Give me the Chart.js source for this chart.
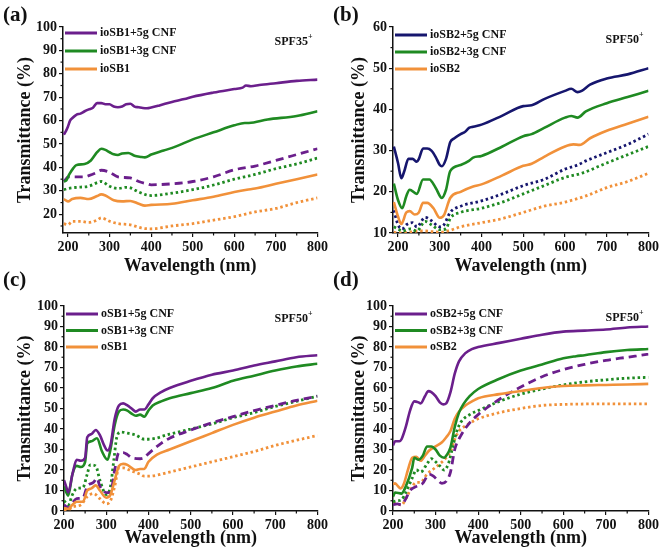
<!DOCTYPE html>
<html>
<head>
<meta charset="utf-8">
<script src="https://cdn.jsdelivr.net/npm/chart.js@4.4.1/dist/chart.umd.min.js"></script>
<style>
  body { margin: 0; background: #fff; width: 661px; height: 555px; position: relative; overflow: hidden; }
  canvas { position: absolute; }
</style>
</head>
<body>
<canvas id="ca" width="330" height="275" style="left:0;top:0"></canvas>
<canvas id="cb" width="331" height="275" style="left:330px;top:0"></canvas>
<canvas id="cc" width="330" height="287" style="left:0;top:268px"></canvas>
<canvas id="cd" width="331" height="287" style="left:330px;top:268px"></canvas>
<script>
// ---- data: [wavelength nm, transmittance %] ----
// (a) ioSB1
const aCnf5 = [[190,54],[195,55.5],[200,57.5],[205,60],[210,61],[220,62.5],[230,63],[240,64],[250,64.8],[260,65.5],[270,67.5],[280,67.5],[290,67],[300,67],[310,66],[320,65.7],[330,66],[340,67],[350,67.2],[360,66],[370,65.7],[380,65.4],[390,65.3],[400,65.6],[420,66.5],[450,68],[480,69.2],[500,70.2],[550,72],[600,73.5],[620,74.1],[628,75],[640,74.7],[660,75.2],[700,76],[750,77],[800,77.5]];
const aCnf3 = [[190,34],[196,34.5],[203,37],[212,39.5],[220,41],[240,41.5],[255,43],[270,46.5],[280,48],[290,47.5],[300,46.5],[310,45.6],[320,45.3],[330,46],[345,46.2],[360,45],[375,44.5],[385,44.3],[400,45.5],[430,47.2],[460,49],[500,52],[550,55],[600,58],[625,59],[635,59],[680,60.5],[750,62],[800,64]];
const aBase = [[190,26.5],[200,25.5],[210,26.5],[230,27],[250,26.5],[270,27.8],[280,28.5],[290,28],[310,26],[330,25.5],[350,25.7],[370,24.5],[385,23.7],[400,24],[450,24.5],[500,26],[550,27.5],[600,29.5],[630,30.5],[650,31],[700,33],[750,35],[800,37]];
const aCnf5b = [[190,34],[195,35],[200,36],[240,36],[250,36.5],[265,37.5],[280,38.8],[300,38],[320,36],[350,35.5],[370,34],[390,33],[400,32.6],[450,33],[500,34],[550,36],[600,39],[650,40.6],[700,43],[760,46],[800,48]];
const aCnf3b = [[190,30.5],[200,31],[220,31.5],[250,32],[270,33.5],[280,34],[300,32],[320,31],[340,31.5],[350,31.3],[370,29.5],[390,28.2],[400,28],[450,29],[500,30.5],[550,32.5],[600,35],[650,37],[700,39.5],[750,41.5],[800,44]];
const aBaseb = [[190,16],[200,15.5],[210,17],[230,17],[250,16.5],[270,17.5],[280,18.5],[300,17],[320,16],[350,15.5],[380,14],[400,13.8],[450,15],[500,16],[550,17.5],[600,19],[650,21],[700,22.5],[750,25],[800,27]];

// (b) ioSB2
const bCnf5 = [[190,31],[200,27],[208,23.3],[215,25],[225,28],[235,28],[245,27.3],[250,28],[260,30.5],[270,30.5],[280,30],[290,28.5],[300,26.5],[305,26.2],[315,28],[325,32],[335,33],[350,34],[360,34.5],[370,35.5],[380,35.8],[400,36.3],[450,38.5],[500,40.8],[520,41],[550,42.5],[600,44.5],[615,45],[630,44.2],[640,44.5],[660,46],[700,47.5],[750,48.5],[800,50]];
const bCnf3 = [[190,22],[200,18],[210,16],[220,19],[228,20.5],[245,19.5],[260,23],[275,23],[290,21],[305,18.5],[315,20.5],[325,25],[350,26.5],[370,27.5],[380,28.3],[400,28.7],[450,31],[500,33.5],[520,34],[550,35.5],[600,38],[615,38.4],[630,38],[650,39.5],[700,41.5],[750,43],[800,44.5]];
const bBase = [[190,17.5],[200,14],[208,12.2],[220,15],[228,15.3],[240,14.5],[250,15],[260,17.3],[270,17.3],[285,16],[300,13.7],[310,14.3],[325,18.5],[350,20],[380,21.3],[400,21.8],[450,24],[500,26.3],[520,26.8],[550,28.5],[600,31],[620,31.5],[635,31.4],[660,33],[700,34.8],[750,36.5],[800,38.2]];
const bCnf5b = [[190,15.5],[200,12],[210,11],[220,12],[235,12.5],[245,11.5],[265,13.8],[280,13],[300,11.5],[310,12],[325,15],[350,16.5],[400,17.8],[450,19.5],[500,21.5],[550,23],[600,25.5],[630,26.5],[650,27.5],[700,29.5],[750,31.5],[800,34]];
const bCnf3b = [[190,11.5],[200,11],[210,10.5],[230,11],[245,10.5],[265,12.8],[280,12],[300,10.8],[315,11],[325,13.5],[350,15],[400,16],[450,17.5],[500,19.5],[550,21.5],[600,23.5],[640,24.5],[700,27],[750,29],[800,31]];
const bBaseb = [[190,10.2],[200,10],[260,10.5],[300,10.2],[320,10.5],[350,11.5],[400,12.5],[450,13.5],[500,15],[550,16.5],[600,17.5],[650,19],[700,21],[750,22.5],[800,24.5]];

// (c) oSB1
const cCnf5 = [[200,15],[205,12],[210,9],[220,18],[230,25],[240,24.5],[250,26],[255,36],[265,37.5],[275,39.5],[285,37],[295,32],[303,29.5],[310,32],[320,45],[330,51.5],[340,52.5],[350,51.5],[360,50],[370,48.5],[380,49.5],[390,49.5],[400,52],[410,55],[430,58],[450,60],[500,63.5],[550,66.5],[600,68.5],[650,71],[700,73],[750,75],[800,76]];
const cCnf3 = [[200,12],[210,7.5],[220,18],[230,22],[240,21.5],[250,24],[255,33],[265,34],[278,35.5],[290,29],[303,25],[310,30],[320,42],[330,48.5],[340,49.5],[350,49],[360,47.5],[370,46.5],[380,47],[390,46],[400,49],[410,51.5],[430,53.5],[450,55],[500,57.5],[550,60],[600,63.5],[650,66],[700,68.5],[750,70.5],[800,71.8]];
const cBase = [[200,1.5],[210,1],[220,3],[230,4.5],[245,4.5],[255,10],[265,11],[275,12.5],[285,10],[300,6.5],[310,8],[320,15],[330,22],[340,23],[350,22.5],[360,21],[370,20],[380,20.5],[390,20.5],[400,24],[420,27.5],[450,30],[500,34],[550,38],[600,42],[650,45.5],[700,48.5],[750,51.5],[800,53.8]];
const cCnf5b = [[200,3],[210,1.5],[220,4],[230,6],[245,6.5],[255,12],[270,14],[278,16],[285,12],[300,9],[310,9],[320,20],[330,28.5],[340,28.5],[350,27.5],[360,26],[380,25.5],[390,26],[400,28],[430,33],[450,35.5],[500,39.5],[550,43],[600,46],[650,49],[700,51.5],[750,54],[800,56]];
const cCnf3b = [[200,5],[210,3],[220,8],[230,11],[245,11.5],[255,18],[262,22.5],[275,22],[285,15],[300,8],[310,12],[318,25],[325,36],[335,38.5],[350,38],[370,37],[390,35],[400,35],[450,37.5],[500,40],[550,42.5],[600,45.5],[650,48],[700,51],[750,53.5],[800,56]];
const cBaseb = [[200,0.5],[210,0.5],[220,2],[240,3],[255,7],[270,8.5],[285,6],[300,3.5],[310,5],[320,12],[330,21],[340,21],[360,19.5],[380,18],[390,17],[400,17],[450,19],[500,21.5],[550,24],[600,26.5],[650,29],[700,32],[750,34.5],[800,36.8]];

// (d) oSB2
const dCnf5 = [[200,32],[205,34],[215,34],[220,35],[230,41],[240,49],[250,53.5],[260,53],[265,52.5],[275,56],[283,58.5],[290,58],[300,56],[310,53],[318,52],[325,52.5],[335,58],[345,67],[355,73],[370,77],[385,79],[400,80],[450,82],[500,84],[550,86],[600,87.5],[650,88],[700,88.5],[750,89.5],[800,90]];
const dCnf3 = [[200,7],[205,9],[220,8.5],[230,12],[245,21],[250,26],[260,25],[270,27],[280,31.5],[290,31.5],[300,30],[310,27],[320,26],[325,27],[335,31],[345,41],[355,48],[365,52],[380,56],[400,59.5],[450,64.5],[500,68.5],[550,71.5],[600,74.5],[630,75.5],[650,76],[700,77.5],[750,78.5],[800,79]];
const dBase = [[200,13],[205,13.5],[210,12.5],[218,11],[225,13],[235,20],[245,26],[255,26.5],[265,24.5],[275,27],[285,29.5],[300,31.5],[315,33.5],[325,36],[335,39],[345,45],[355,48.5],[370,51.5],[390,54],[400,55],[450,57],[500,58.5],[550,60],[600,61],[650,61.3],[700,61.5],[750,61.7],[800,62]];
const dCnf5b = [[200,3],[210,3.5],[220,3],[230,6],[240,10],[255,12],[270,13.5],[285,18],[295,17],[305,15],[315,13.5],[325,14.5],[335,19],[345,30],[360,37],[380,43],[400,47],[450,54.5],[500,60.5],[550,65.5],[600,69],[650,71.5],[700,73.5],[750,75],[800,76.5]];
const dCnf3b = [[200,4.5],[210,5],[220,5.5],[230,9],[245,16],[255,20],[265,19],[280,23],[290,25.5],[300,24],[310,22],[320,20],[330,23],[340,31],[350,39],[360,43.5],[380,47],[400,49],[450,53.5],[500,57],[550,59.5],[600,61.5],[650,63],[700,64],[750,64.8],[800,65.2]];
const dBaseb = [[200,4],[210,3.5],[220,3],[230,6],[240,10],[255,14],[265,14],[280,18],[295,20.5],[310,23],[325,26],[335,29],[345,35],[355,39],[370,41.5],[390,44],[400,45],[450,48],[500,50],[550,51.5],[600,52],[650,52.2],[700,52.3],[800,52.3]];

const xTicks = [200, 300, 400, 500, 600, 700, 800];
const yTicksA = [20, 30, 40, 50, 60, 70, 80, 90, 100];
const yTicksB = [10, 20, 30, 40, 50, 60];
const yTicksCD = [0, 10, 20, 30, 40, 50, 60, 70, 80, 90, 100];

const PURPLE = '#6b1f8c';
const NAVY = '#16166e';
const GREEN = '#1f8a22';
const ORANGE = '#f1913a';
const FONT = '"Liberation Serif", "Times New Roman", serif';

const decor = {
  id: 'decor',
  afterDraw(chart, args, o) {
    const { ctx, chartArea: ca, scales } = chart;
    ctx.save();
    // minor ticks
    ctx.strokeStyle = '#111';
    ctx.lineWidth = 1.2;
    const xs = scales.x, ys = scales.y;
    for (let i = 0; i < xTicks.length - 1; i++) {
      const px = xs.getPixelForValue((xTicks[i] + xTicks[i + 1]) / 2);
      ctx.beginPath(); ctx.moveTo(px, ca.bottom); ctx.lineTo(px, ca.bottom + 2.5); ctx.stroke();
    }
    const yt = o.yTicks;
    const step = yt[1] - yt[0];
    for (let v = yt[0] - step / 2; v < yt[yt.length - 1]; v += step) {
      if (v < ys.min) continue;
      const py = ys.getPixelForValue(v);
      ctx.beginPath(); ctx.moveTo(ca.left, py); ctx.lineTo(ca.left - 2.5, py); ctx.stroke();
    }
    // legend
    ctx.textBaseline = 'middle';
    ctx.textAlign = 'left';
    o.legend.forEach((it, i) => {
      const y = ca.top + o.legendTop + i * o.legendGap;
      ctx.strokeStyle = it.color; ctx.lineWidth = 3;
      ctx.beginPath(); ctx.moveTo(ca.left + 2, y); ctx.lineTo(ca.left + 34, y); ctx.stroke();
      ctx.fillStyle = '#111';
      ctx.font = 'bold 12px ' + FONT;
      ctx.fillText(it.text, ca.left + 37, y);
    });
    // SPF label
    ctx.font = 'bold 8px ' + FONT;
    const supW = ctx.measureText('+').width;
    ctx.textAlign = 'right';
    ctx.fillText('+', ca.right - 5, ca.top + o.spfY - 5);
    ctx.font = 'bold 12px ' + FONT;
    ctx.fillText(o.spf, ca.right - 5 - supW, ca.top + o.spfY);
    // panel letter
    ctx.textAlign = 'left';
    ctx.font = 'bold 21px ' + FONT;
    ctx.fillText(o.letter, 3, o.letterY);
    ctx.restore();
  }
};

function ds(points, color, style) {
  return {
    data: points.map(p => ({ x: p[0], y: p[1] })),
    borderColor: color,
    borderWidth: style === 'solid' ? 2.6 : 2.8,
    borderDash: style === 'dash' ? [8, 5] : style === 'dot' ? [2.5, 2.8] : [],
    pointRadius: 0,
    fill: false,
    cubicInterpolationMode: 'monotone'
  };
}

function panel(id, p) {
  const c = document.getElementById(id);
  new Chart(c, {
    type: 'line',
    data: { datasets: p.series },
    plugins: [decor],
    options: {
      responsive: false,
      animation: false,
      layout: { padding: { top: p.top, right: c.width - p.right, left: 0, bottom: 0 } },
      plugins: {
        legend: { display: false },
        tooltip: { enabled: false },
        decor: { legend: p.legend, spf: p.spf, spfY: p.spfY, letter: p.letter, letterY: p.letterY,
                 legendTop: p.legendTop, legendGap: p.legendGap, yTicks: p.yTicks }
      },
      scales: {
        x: {
          type: 'linear', min: p.xMin, max: 800,
          afterBuildTicks: s => { s.ticks = xTicks.map(v => ({ value: v })); },
          afterFit: s => { s.height = c.height - p.bottom; },
          grid: { drawOnChartArea: false, drawTicks: true, tickLength: 4, color: '#111', lineWidth: 1.2 },
          border: { display: true, color: '#111', width: 1.5 },
          ticks: { color: '#111', padding: 2, maxRotation: 0, font: { family: FONT, size: 14, weight: 'bold' } },
          title: { display: true, text: 'Wavelength (nm)', color: '#111', padding: { top: 0, bottom: p.xTitlePad },
                   font: { family: FONT, size: 18, weight: 'bold', lineHeight: 1 } }
        },
        y: {
          min: p.yMin, max: p.yMax,
          afterBuildTicks: s => { s.ticks = p.yTicks.map(v => ({ value: v })); },
          afterFit: s => { s.width = p.left; },
          grid: { drawOnChartArea: false, drawTicks: true, tickLength: 4, color: '#111', lineWidth: 1.2 },
          border: { display: true, color: '#111', width: 1.5 },
          ticks: { color: '#111', padding: 2, font: { family: FONT, size: 14, weight: 'bold' } },
          title: { display: true, text: 'Transmittance (%)', color: '#111', padding: { top: p.yTitlePad, bottom: 0 },
                   font: { family: FONT, size: 18, weight: 'bold', lineHeight: 1 } }
        }
      }
    }
  });
}

panel('ca', {
  left: 63, right: 320, top: 27, bottom: 233, xMin: 188, yMin: 12, yMax: 100, yTicks: yTicksA,
  xTitlePad: 0, yTitlePad: 16, letter: '(a)', letterY: 16, spf: 'SPF35', spfY: 15, legendTop: 6, legendGap: 18,
  legend: [{ text: 'ioSB1+5g CNF', color: PURPLE }, { text: 'ioSB1+3g CNF', color: GREEN }, { text: 'ioSB1', color: ORANGE }],
  series: [ds(aCnf5, PURPLE, 'solid'), ds(aCnf3, GREEN, 'solid'), ds(aBase, ORANGE, 'solid'),
           ds(aCnf5b, PURPLE, 'dash'), ds(aCnf3b, GREEN, 'dot'), ds(aBaseb, ORANGE, 'dot')]
});
panel('cb', {
  left: 63, right: 319, top: 27, bottom: 233, xMin: 188, yMin: 10, yMax: 60, yTicks: yTicksB,
  xTitlePad: 0, yTitlePad: 20, letter: '(b)', letterY: 16, spf: 'SPF50', spfY: 13, legendTop: 8, legendGap: 17,
  legend: [{ text: 'ioSB2+5g CNF', color: NAVY }, { text: 'ioSB2+3g CNF', color: GREEN }, { text: 'ioSB2', color: ORANGE }],
  series: [ds(bCnf5, NAVY, 'solid'), ds(bCnf3, GREEN, 'solid'), ds(bBase, ORANGE, 'solid'),
           ds(bCnf5b, NAVY, 'dot'), ds(bCnf3b, GREEN, 'dot'), ds(bBaseb, ORANGE, 'dot')]
});
panel('cc', {
  left: 64, right: 319, top: 38, bottom: 243, xMin: 200, yMin: 0, yMax: 100, yTicks: yTicksCD,
  xTitlePad: 8, yTitlePad: 16, letter: '(c)', letterY: 13, spf: 'SPF50', spfY: 13, legendTop: 8, legendGap: 16.5,
  legend: [{ text: 'oSB1+5g CNF', color: PURPLE }, { text: 'oSB1+3g CNF', color: GREEN }, { text: 'oSB1', color: ORANGE }],
  series: [ds(cCnf5, PURPLE, 'solid'), ds(cCnf3, GREEN, 'solid'), ds(cBase, ORANGE, 'solid'),
           ds(cCnf5b, PURPLE, 'dash'), ds(cCnf3b, GREEN, 'dot'), ds(cBaseb, ORANGE, 'dot')]
});
panel('cd', {
  left: 63, right: 319, top: 38, bottom: 243, xMin: 200, yMin: 0, yMax: 100, yTicks: yTicksCD,
  xTitlePad: 8, yTitlePad: 20, letter: '(d)', letterY: 13, spf: 'SPF50', spfY: 12, legendTop: 8, legendGap: 16.5,
  legend: [{ text: 'oSB2+5g CNF', color: PURPLE }, { text: 'oSB2+3g CNF', color: GREEN }, { text: 'oSB2', color: ORANGE }],
  series: [ds(dCnf5, PURPLE, 'solid'), ds(dCnf3, GREEN, 'solid'), ds(dBase, ORANGE, 'solid'),
           ds(dCnf5b, PURPLE, 'dash'), ds(dCnf3b, GREEN, 'dot'), ds(dBaseb, ORANGE, 'dot')]
});
</script>
</body>
</html>
